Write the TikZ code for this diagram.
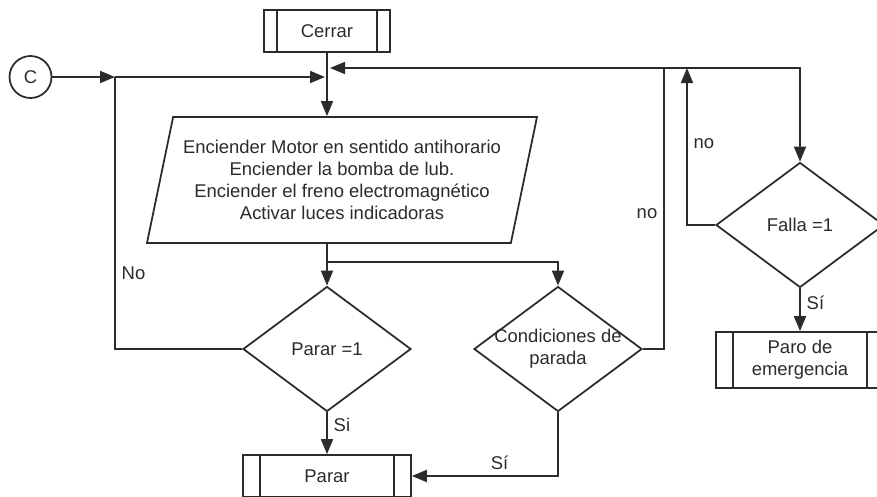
\documentclass[tikz,border=0pt]{standalone}
\usepackage{fontspec}
\setmainfont{Liberation Sans}
\usepackage{tikz}
\usetikzlibrary{positioning,shapes.geometric,arrows.meta}
\definecolor{ink}{HTML}{2B2B2B}
\tikzset{node distance=2cm, auto,
  >={Triangle[length=0.3cm,width=0.24cm]},
  every node/.style={font=\fontsize{10.5}{12.5}\selectfont, text=ink},
  sub/.style={draw, rectangle, minimum width=3.36cm, minimum height=0.84cm, align=center,
    path picture={\draw ([xshift=#1]path picture bounding box.north west) -- ([xshift=#1]path picture bounding box.south west)
      ([xshift=-#1]path picture bounding box.north east) -- ([xshift=-#1]path picture bounding box.south east);}},
  sub/.default=0.34cm,
  dec/.style={draw, diamond, aspect=1.34, inner sep=0pt, minimum width=3.36cm, minimum height=2.5cm, align=center},
  io/.style={draw, trapezium, trapezium left angle=74, trapezium right angle=106,
    trapezium stretches body, minimum width=7.8cm, minimum height=2.52cm, align=center}
}

\begin{document}
\begin{tikzpicture}[line width=1pt, draw=ink]
  \useasboundingbox (0,0) rectangle (17.54,-9.92);

  \node (C) [draw, circle, minimum size=0.84cm, inner sep=0pt] at (0.61,-1.54) {C};
  \node (Cerrar) [sub=0.26cm, minimum width=2.52cm] at (6.54,-0.62) {Cerrar};
  \node (Motor) [io, below of=Cerrar, node distance=2.98cm, xshift=0.3cm]
    {Enciender Motor en sentido antihorario\\Enciender la bomba de lub.\\Enciender el freno electromagnético\\Activar luces indicadoras};
  \node (P) [dec, below of=Cerrar, node distance=6.36cm] {Parar =1};
  % text runs past the edges here, so keep the diamond at its set size
  \node (Cond) [dec, inner xsep=-0.3cm, right of=P, node distance=4.62cm] {Condiciones de\\parada};
  \node (Parar) [sub, below of=P, node distance=2.54cm] {Parar};
  \node (F) [dec] at (16,-4.5) {Falla =1};
  \node (Paro) [sub, minimum height=1.12cm, below of=F, node distance=2.7cm] {Paro de\\emergencia};

  \coordinate (J) at (2.3,-1.54);
  \coordinate (M) at (6.5,-1.54);
  \coordinate (R) at (6.6,-1.36);
  \coordinate (R1) at (13.28,-1.36);
  \coordinate (R2) at (13.74,-1.36);
  \coordinate (B) at (6.54,-5.24);

  \draw [->] (C) -- (J);
  \draw [->] (J) -- (M);
  \draw [->] (Cerrar) -- (Cerrar |- Motor.north);
  \draw [->] (Motor.south -| P) -- (P);
  \draw [->] (B) -| (Cond);
  \draw (P.west) -| node[pos=0.64, right] {No} (J);
  \draw [->] (P) -- node[pos=0.3, right] {Si} (Parar);
  \draw [->] (Cond.south) |- node[pos=0.7, above] {Sí} (Parar.east);
  \draw [->] (Cond.east) -| node[pos=0.74, left] {no} (R1) -- (R);
  \draw [->] (R1) -| (F);
  \draw [->] (F.west) -| node[pos=0.76, right] {no} (R2);
  \draw [->] (F) -- node[pos=0.34, right] {Sí} (Paro);
\end{tikzpicture}
\end{document}
